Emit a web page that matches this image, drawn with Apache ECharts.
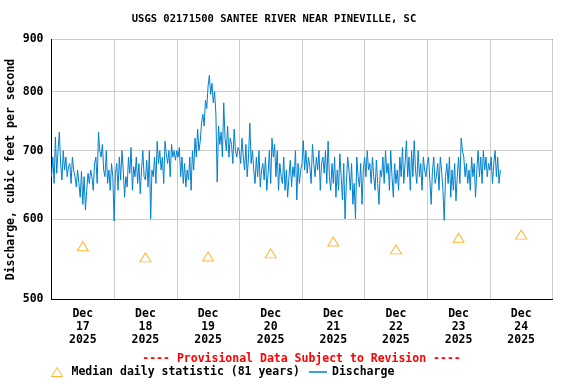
<!DOCTYPE html>
<html><head><meta charset="utf-8">
<script src="https://cdn.jsdelivr.net/npm/echarts@6/dist/echarts.min.js"></script>
<style>html,body{margin:0;padding:0;background:#fff}#c{width:576px;height:384px}</style>
</head><body><div id="c"></div>
<script>
const titleText = 'USGS 02171500 SANTEE RIVER NEAR PINEVILLE, SC';
const yAxisName = 'Discharge, cubic feet per second';
const yTicks = [500, 600, 700, 800, 900];
const dayLabels = ['2025-12-17','2025-12-18','2025-12-19','2025-12-20','2025-12-21','2025-12-22','2025-12-23','2025-12-24'];
const medianValues = [564, 550, 551, 555, 570, 560, 575, 579];
const dischargeStart = '2025-12-17T00:00:00Z';
const dischargeStepMinutes = 30;
const dec17 = [660,690,650,722,665,700,730,680,655,700,670,690,660,675,680,650,690,670,660,645,670,650,630,668,620,660,612,640,665,650,670,660,640,680,690,650,730,700,690,710,670,660,700,650,670,640,680,660];
const dec18 = [597,665,680,640,690,655,700,670,630,660,645,690,665,705,640,675,660,690,650,680,635,670,700,660,655,685,645,700,600,670,660,690,650,715,680,700,670,690,650,715,695,680,700,660,710,690,700,685];
const dec19 = [700,690,705,660,690,650,680,645,670,655,690,640,700,670,720,690,735,700,715,745,760,740,785,770,810,830,795,815,780,800,760,652,740,710,730,690,780,720,700,740,690,720,710,680,735,700,690,705];
const dec20 = [700,680,720,690,670,710,660,690,745,680,700,670,650,690,660,700,645,670,680,655,690,640,665,700,650,720,690,710,660,700,640,680,660,650,690,640,670,630,660,685,645,675,660,700,626,680,650,670];
const dec21 = [680,716,670,700,665,690,675,650,710,680,660,690,670,700,640,680,690,665,700,650,715,660,640,680,650,690,630,670,640,695,660,626,680,600,650,690,670,640,680,620,650,600,690,660,645,680,620,670];
const dec22 = [690,660,700,670,680,650,690,660,640,685,650,620,670,660,690,650,700,665,680,640,700,660,630,680,650,670,640,690,660,705,650,680,716,660,690,640,700,660,716,670,650,700,660,680,640,690,670,660];
const dec23 = [680,690,655,620,670,690,650,660,680,640,690,670,640,598,660,680,650,690,630,670,640,680,625,660,690,650,720,700,690,660,680,650,670,640,690,660,680,630,670,700,660,690,650,700,670,690,660,680];
const dec24 = [670,690,650,680,700,660,690,650,670];
const medianLegend = 'Median daily statistic (81 years)';
const dischargeLegend = 'Discharge';
const provisionalText = '---- Provisional Data Subject to Revision ----';

const DAY = 86400000;
const dischargeValues = [].concat(dec17, dec18, dec19, dec20, dec21, dec22, dec23, dec24);
const t0 = Date.parse(dischargeStart);
const dischargeData = dischargeValues.map((v, i) => [t0 + i * dischargeStepMinutes * 60000, v]);
const midnights = dayLabels.map(d => Date.parse(d + 'T00:00:00Z'));
const noons = midnights.map(m => m + DAY / 2);
const medianData = noons.map((t, i) => [t, medianValues[i]]);
const xMin = midnights[0], xMax = midnights[midnights.length - 1] + DAY;
const tickDays = midnights.concat([xMax]);
const MON = ['Jan','Feb','Mar','Apr','May','Jun','Jul','Aug','Sep','Oct','Nov','Dec'];
const FONT = 'DejaVu Sans Mono';

const chart = echarts.init(document.getElementById('c'), null, {renderer: 'canvas'});
chart.setOption({
  animation: false,
  backgroundColor: '#fff',
  grid: {left: 51.5, right: 23.5, top: 39.5, bottom: 84.5, outerBoundsMode: 'none', containLabel: false,
         show: true, borderColor: '#000', borderWidth: 1, backgroundColor: 'transparent'},
  xAxis: {
    type: 'value', min: xMin, max: xMax,
    axisLine: {show: true, lineStyle: {color: '#000', width: 1}},
    axisTick: {show: false, customValues: tickDays},
    splitLine: {show: true, lineStyle: {color: '#cccccc', width: 1}},
    axisLabel: {
      customValues: noons, margin: 8, color: '#000', fontFamily: FONT, fontWeight: 'bold', fontSize: 11.5, lineHeight: 13,
      formatter: v => { const d = new Date(v); return MON[d.getUTCMonth()] + '\n' + d.getUTCDate() + '\n' + d.getUTCFullYear(); }
    }
  },
  yAxis: {
    type: 'log', logBase: 10, min: 500, max: 900,
    name: yAxisName, nameLocation: 'middle', nameGap: 34, nameRotate: 90, nameMoveOverlap: false,
    nameTextStyle: {color: '#000', fontFamily: FONT, fontWeight: 'bold', fontSize: 11.5},
    axisLine: {show: true, lineStyle: {color: '#000', width: 1}},
    axisTick: {show: false, customValues: yTicks},
    splitLine: {show: true, lineStyle: {color: '#cccccc', width: 1}},
    axisLabel: {customValues: yTicks, margin: 8, color: '#000', fontFamily: FONT, fontWeight: 'bold', fontSize: 11.5}
  },
  legend: [
    {data: [{name: medianLegend, icon: 'triangle', itemStyle: {color: 'rgba(0,0,0,0)', borderColor: '#ffa500', borderWidth: 1}}],
     left: 51, top: 366, itemWidth: 11, itemHeight: 9, itemGap: 0, padding: 0,
     textStyle: {color: '#000', fontFamily: FONT, fontWeight: 'bold', fontSize: 11.5, padding: [0, 0, 0, 4]}},
    {data: [{name: dischargeLegend, icon: 'rect'}], left: 309, top: 366, itemWidth: 18, itemHeight: 1.5, padding: 0,
     textStyle: {color: '#000', fontFamily: FONT, fontWeight: 'bold', fontSize: 11.5}}
  ],
  graphic: [
    {type: 'text', x: 274, y: 19, style: {text: titleText, textAlign: 'center', textVerticalAlign: 'middle', fill: '#000', font: 'bold 10.5px "DejaVu Sans Mono"'}},
    {type: 'text', x: 301.5, y: 359, style: {text: provisionalText, textAlign: 'center', textVerticalAlign: 'middle', fill: '#ff0000', font: 'bold 11.5px "DejaVu Sans Mono"'}}
  ],
  series: [
    {name: dischargeLegend, type: 'line', data: dischargeData, symbol: 'none', showSymbol: false,
     lineStyle: {color: '#0080d0', width: 1}, itemStyle: {color: '#0080d0'}, z: 2},
    {name: medianLegend, type: 'scatter', data: medianData, symbol: 'triangle', symbolSize: [11, 9],
     itemStyle: {color: 'rgba(0,0,0,0)', borderColor: '#ffa500', borderWidth: 1}, z: 3}
  ]
});
</script></body></html>
